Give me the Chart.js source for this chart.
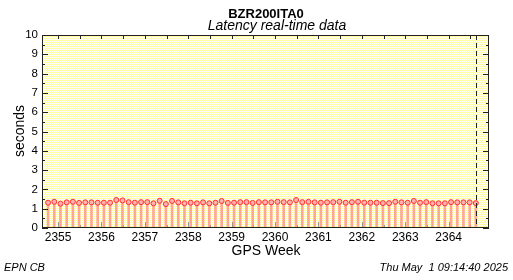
<!DOCTYPE html>
<html>
<head>
<meta charset="utf-8">
<script src="https://cdn.jsdelivr.net/npm/chart.js@4.4.1/dist/chart.umd.min.js"></script>
<style>
  html, body { margin: 0; padding: 0; background: #fff; }
  #wrap { width: 513px; height: 280px; }
</style>
</head>
<body>
<div id="wrap"><canvas id="latChart" width="513" height="280"></canvas></div>
<script>
// station + texts
const station = 'BZR200ITA0';
const subTitle = 'Latency real-time data';
const xTitle = 'GPS Week';
const yTitle = 'seconds';
const footLeft = 'EPN CB';
const footRight = 'Thu May  1 09:14:40 2025';

// axis ranges
const xRange = [2354.63, 2364.93];
const yRange = [0, 10];
const nowWeek = 2364.63; // dashed marker = time of plot

// one sample per day, first at week 2354.77
const firstWeek = 2354.77;
const latency = [
  1.31, 1.36, 1.26, 1.33, 1.36, 1.30, 1.33, 1.33, 1.31, 1.31,
  1.31, 1.45, 1.43, 1.34, 1.31, 1.34, 1.34, 1.28, 1.41, 1.24,
  1.40, 1.33, 1.28, 1.31, 1.28, 1.33, 1.28, 1.31, 1.40, 1.30,
  1.31, 1.34, 1.34, 1.30, 1.34, 1.33, 1.33, 1.36, 1.34, 1.33,
  1.45, 1.34, 1.36, 1.33, 1.31, 1.33, 1.34, 1.36, 1.31, 1.34,
  1.36, 1.31, 1.31, 1.31, 1.29, 1.29, 1.36, 1.33, 1.31, 1.40,
  1.31, 1.34, 1.28, 1.28, 1.28, 1.34, 1.33, 1.33, 1.33, 1.29
];

const points = latency.map((v, i) => ({ x: firstWeek + i / 7, y: v }));

// yellow dotted fill like the ROOT pad
function makePattern(ctx) {
    const c = document.createElement('canvas');
    c.width = 2; c.height = 2;
    const p = c.getContext('2d');
    p.fillStyle = '#ffffff';
    p.fillRect(0, 0, 2, 2);
    p.fillStyle = '#ffff9c';
    p.fillRect(0, 0, 1, 1);
    p.fillStyle = '#fffbc8';
    p.fillRect(1, 1, 1, 1);
    return ctx.createPattern(c, 'repeat');
}

const rootFrame = {
    id: 'rootFrame',
    beforeDatasetsDraw(chart) {
        const { ctx, chartArea: a, scales } = chart;
        ctx.save();
        ctx.fillStyle = makePattern(ctx);
        ctx.fillRect(a.left, a.top, a.right - a.left, a.bottom - a.top);
        // bottom ticks (half weeks), grayish
        ctx.strokeStyle = '#999';
        ctx.lineWidth = 1;
        for (let w = 2355; w <= 2364.5; w += 0.5) {
            const x = Math.round(scales.x.getPixelForValue(w)) + 0.5;
            const len = Number.isInteger(w) ? 6 : 3;
            ctx.beginPath();
            ctx.moveTo(x, a.bottom);
            ctx.lineTo(x, a.bottom - len);
            ctx.stroke();
        }
        ctx.restore();
    },
    afterDatasetsDraw(chart) {
        const { ctx, chartArea: a, scales } = chart;
        ctx.save();
        ctx.strokeStyle = '#222';
        ctx.lineWidth = 1;
        // top ticks
        for (let w = 2355; w <= 2364.5; w += 0.5) {
            const x = Math.round(scales.x.getPixelForValue(w)) + 0.5;
            ctx.beginPath();
            ctx.moveTo(x, a.top);
            ctx.lineTo(x, a.top + 4);
            ctx.stroke();
        }
        // left / right ticks
        for (let v = 0; v <= 10; v += 0.5) {
            const y = Math.round(scales.y.getPixelForValue(v)) + 0.5;
            const len = Number.isInteger(v) ? 6 : 3;
            ctx.beginPath();
            ctx.moveTo(a.left, y); ctx.lineTo(a.left + len, y);
            ctx.moveTo(a.right, y); ctx.lineTo(a.right - len, y);
            ctx.stroke();
        }
        // dashed "now" line
        const xn = Math.round(scales.x.getPixelForValue(nowWeek)) + 0.5;
        ctx.setLineDash([5, 3]);
        ctx.beginPath();
        ctx.moveTo(xn, a.top);
        ctx.lineTo(xn, a.bottom);
        ctx.stroke();
        ctx.setLineDash([]);
        // frame
        ctx.strokeRect(a.left + 0.5, a.top + 0.5, a.right - a.left - 1, a.bottom - a.top - 1);
        ctx.restore();
    },
    afterDraw(chart) {
        const { ctx } = chart;
        ctx.save();
        ctx.fillStyle = '#000';
        ctx.textBaseline = 'middle';
        ctx.textAlign = 'center';
        ctx.font = 'bold 13px "Liberation Sans", Arial, sans-serif';
        ctx.fillText(station, 266, 14);
        ctx.font = 'italic 14px "Liberation Sans", Arial, sans-serif';
        ctx.fillText(subTitle, 277, 26);
        ctx.font = '14px "Liberation Sans", Arial, sans-serif';
        ctx.fillText(xTitle, 266, 251);
        ctx.save();
        ctx.translate(20, 131);
        ctx.rotate(-Math.PI / 2);
        ctx.fillText(yTitle, 0, 0);
        ctx.restore();
        ctx.font = 'italic 11px "Liberation Sans", Arial, sans-serif';
        ctx.textAlign = 'left';
        ctx.fillText(footLeft, 4, 268);
        ctx.textAlign = 'right';
        ctx.fillText(footRight, 508, 268);
        ctx.restore();
    }
};

const ctx = document.getElementById('latChart').getContext('2d');
const latChart = new Chart(ctx, {
    type: 'bar',
    data: {
        datasets: [
            {
                type: 'bar',
                data: points,
                backgroundColor: 'rgba(255,120,120,0.65)',
                barThickness: 2,
                order: 2
            },
            {
                type: 'line',
                data: points,
                showLine: false,
                pointRadius: 2.5,
                pointBorderWidth: 1,
                pointBorderColor: '#ff3030',
                pointBackgroundColor: '#ffb0b0',
                order: 1
            }
        ]
    },
    options: {
        responsive: false,
        animation: false,
        layout: { padding: { left: 0, right: 24, top: 35, bottom: 0 } },
        plugins: { legend: { display: false }, tooltip: { enabled: false } },
        scales: {
            x: {
                type: 'linear',
                min: xRange[0],
                max: xRange[1],
                offset: false,
                grid: { display: false, drawTicks: false },
                border: { display: false },
                ticks: {
                    stepSize: 1,
                    includeBounds: false,
                    autoSkip: false,
                    maxRotation: 0,
                    padding: 2,
                    color: '#000',
                    font: { family: '"Liberation Sans", Arial, sans-serif', size: 12 },
                    callback: v => String(v)
                },
                afterFit: s => { s.height = 52; }
            },
            y: {
                min: yRange[0],
                max: yRange[1],
                grid: { display: false, drawTicks: false },
                border: { display: false },
                ticks: {
                    stepSize: 1,
                    padding: 4,
                    color: '#000',
                    font: { family: '"Liberation Sans", Arial, sans-serif', size: 11.5 }
                },
                afterFit: s => { s.width = 42; }
            }
        }
    },
    plugins: [rootFrame]
});
</script>
</body>
</html>
